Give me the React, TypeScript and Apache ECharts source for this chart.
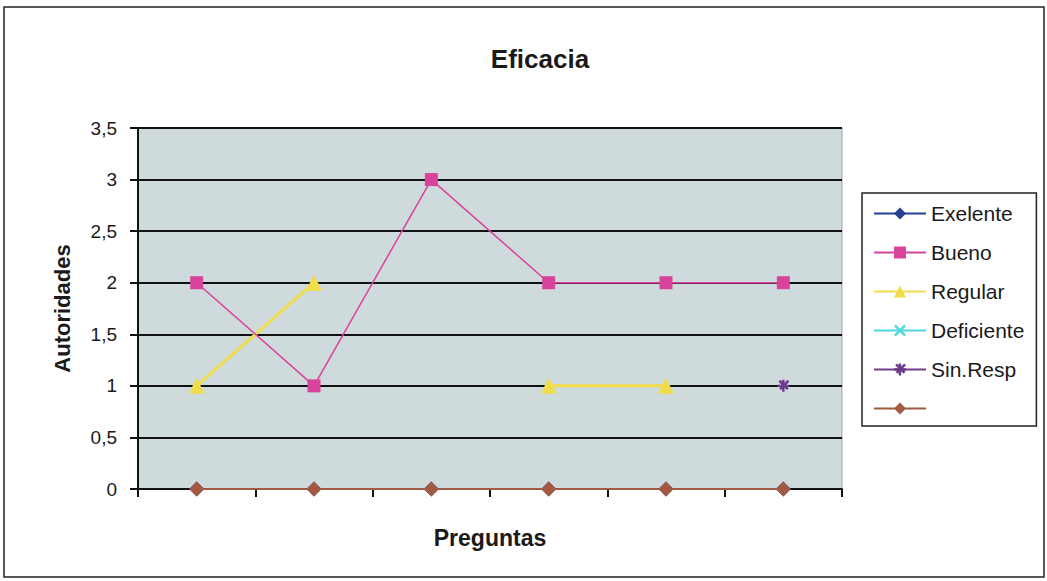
import React, { useEffect, useRef } from "react";
import * as echarts from "echarts";

const categories = ["1", "2", "3", "4", "5", "6"];
const exelente = [0, 0, 0, 0, 0, 0];
const bueno = [2, 1, 3, 2, 2, 2];
const regular = [1, 2, null, 1, 1, null];
const deficiente = [null, null, null, null, null, null];
const sinResp = [null, null, null, null, null, 1];
const sinNombre = [0, 0, 0, 0, 0, 0];
const yTicks = [0, 0.5, 1, 1.5, 2, 2.5, 3, 3.5];

const FONT = "'Liberation Sans', Arial, sans-serif";
const asterisk =
  "path://M4,0h2v4h4v2h-4v4h-2v-4h-4v-2h4z M1,1.5l1.5,-1.5l7,7l-1.5,1.5z M8.5,0l1.5,1.5l-7,7l-1.5,-1.5z";

export default function App() {
  const ref = useRef<HTMLDivElement>(null);
  useEffect(() => {
    document.body.style.margin = "0";
    const chart = echarts.init(ref.current!, null, { renderer: "svg" });
    const mk = (name: string, data: any[], color: string, symbol: string, size: number, width: number, z: number) => ({
      name,
      type: "line",
      data,
      symbol,
      symbolSize: size,
      showAllSymbol: true,
      connectNulls: false,
      z,
      lineStyle: { color, width },
      itemStyle: { color },
    });
    chart.setOption({
      animation: false,
      backgroundColor: "#fff",
      title: {
        text: "Eficacia",
        left: 535,
        textAlign: "center",
        top: 41,
        textStyle: { fontFamily: FONT, fontWeight: "bold", fontSize: 26, color: "#1a1a1a" },
      },
      graphic: [
        {
          type: "rect",
          shape: { x: 4, y: 7, width: 1040, height: 570 },
          style: { fill: "none", stroke: "#222", lineWidth: 1.5 },
          silent: true,
        },
      ],
      legend: {
        orient: "vertical",
        left: 862,
        top: 193,
        padding: [10, 12, 7, 11],
        itemWidth: 52,
        itemHeight: 15,
        itemGap: 18,
        borderColor: "#222",
        borderWidth: 1.5,
        textStyle: { fontFamily: FONT, fontSize: 21, color: "#1a1a1a" },
        data: ["Exelente", "Bueno", "Regular", "Deficiente", "Sin.Resp", " "],
      },
      grid: {
        left: 138,
        top: 128,
        right: 205,
        bottom: 92,
        show: true,
        backgroundColor: "#CFDADD",
        borderColor: "#9aa",
        borderWidth: 1,
      },
      xAxis: {
        type: "category",
        data: categories,
        boundaryGap: true,
        name: "Preguntas",
        nameLocation: "middle",
        nameGap: 37,
        nameTextStyle: { fontFamily: FONT, fontWeight: "bold", fontSize: 23, color: "#1a1a1a" },
        axisLine: { lineStyle: { color: "#111", width: 2 } },
        axisTick: { show: true, length: 8, lineStyle: { color: "#111", width: 2 } },
        axisLabel: { show: false },
      },
      yAxis: {
        type: "value",
        min: 0,
        max: 3.5,
        interval: 0.5,
        name: "Autoridades",
        nameLocation: "middle",
        nameGap: 65,
        nameTextStyle: { fontFamily: FONT, fontWeight: "bold", fontSize: 22, color: "#1a1a1a" },
        axisLine: { show: true, lineStyle: { color: "#111", width: 2 } },
        axisTick: { show: true, length: 8, lineStyle: { color: "#111", width: 2 } },
        axisLabel: {
          fontFamily: FONT,
          fontSize: 19,
          color: "#1a1a1a",
          margin: 21,
          formatter: (v: number) => (yTicks.includes(v) ? String(v).replace(".", ",") : ""),
        },
        splitLine: { lineStyle: { color: "#111", width: 2 } },
      },
      series: [
        mk("Exelente", exelente, "#23418F", "diamond", 15, 2, 2),
        mk("Bueno", bueno, "#D8449B", "rect", 13, 1.5, 4),
        mk("Regular", regular, "#F1DC4C", "triangle", 16, 3, 3),
        mk("Deficiente", deficiente, "#4FD8DF", "path://M0,1.5l1.5,-1.5l8.5,8.5l-1.5,1.5z M8.5,0l1.5,1.5l-8.5,8.5l-1.5,-1.5z", 10, 1.5, 3),
        mk("Sin.Resp", sinResp, "#6E3A8E", asterisk, 12, 1.5, 3),
        mk(" ", sinNombre, "#A25A43", "diamond", 15, 2, 5),
      ],
    });
    return () => chart.dispose();
  }, []);
  return <div ref={ref} style={{ width: 1047, height: 581 }} />;
}
